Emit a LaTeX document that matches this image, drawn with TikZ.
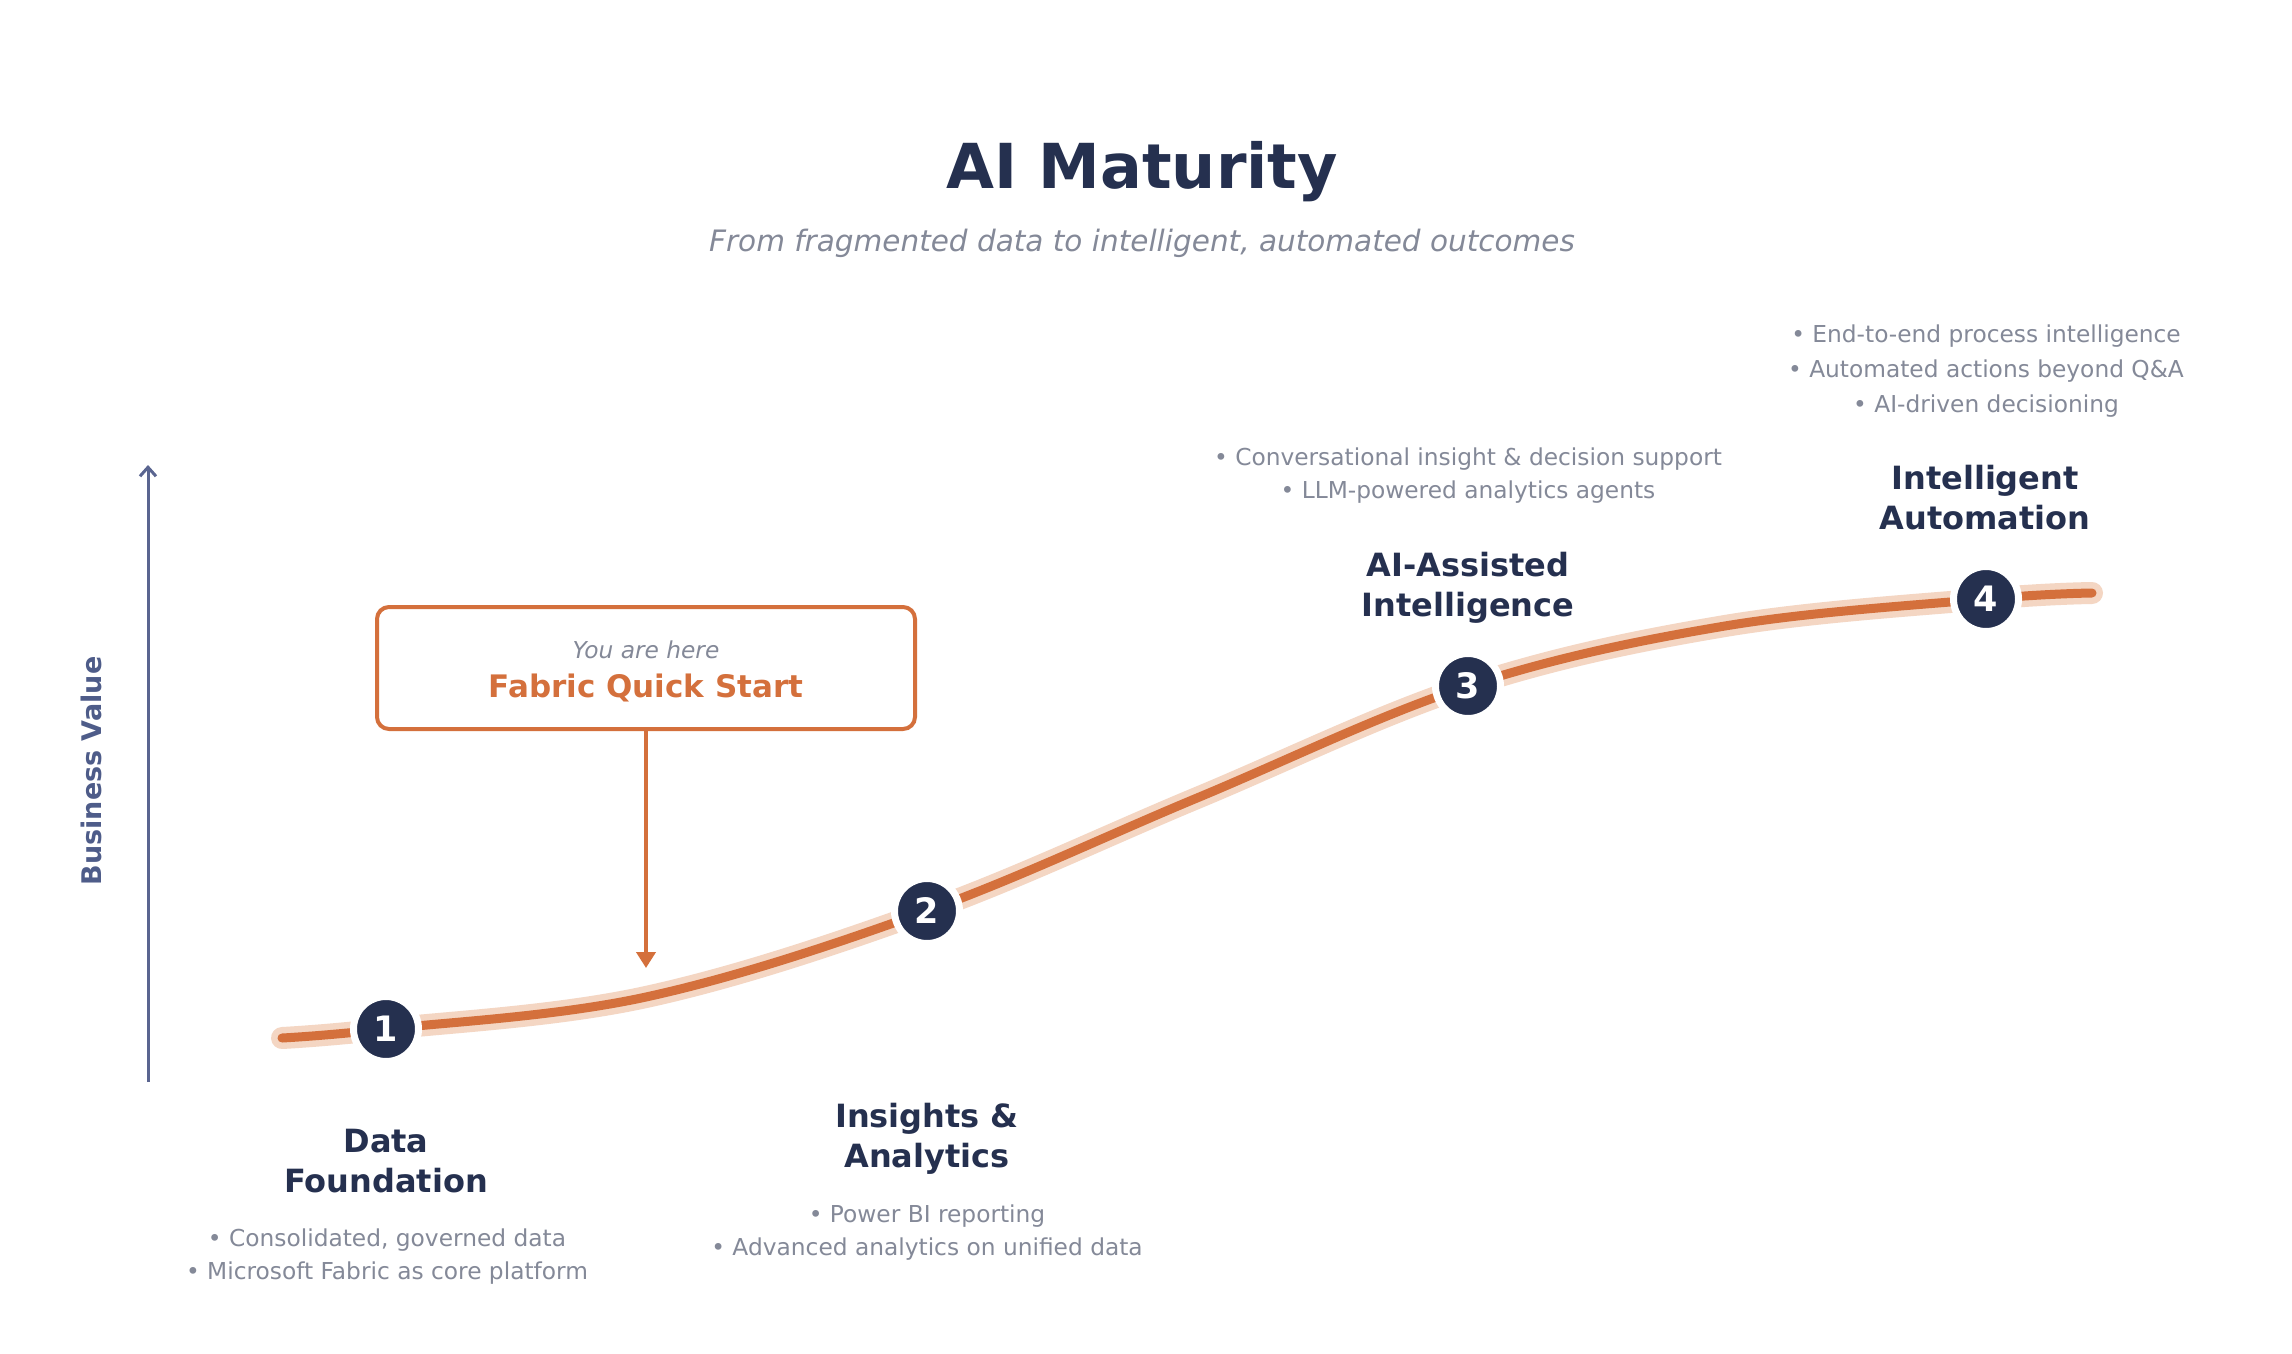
\documentclass[tikz,border=0pt]{standalone}
\usepackage{fontspec}
\setmainfont{DejaVu Sans}
\usetikzlibrary{arrows.meta}
\definecolor{navy}{HTML}{25304F}
\definecolor{orng}{HTML}{D4703C}
\definecolor{halo}{HTML}{F4D6C3}
\definecolor{graytxt}{HTML}{848998}
\definecolor{axcol}{HTML}{5A6590}
\definecolor{axlab}{HTML}{4E5C89}
\begin{document}
\begin{tikzpicture}[x=1pt,y=-1pt,
  head/.style={font=\bfseries\fontsize{32}{40}\selectfont, text=navy, align=center, inner sep=0pt},
  bul/.style={font=\fontsize{23.3}{33}\selectfont, text=graytxt, align=center, inner sep=0pt},
  stepdot/.style={circle, fill=navy, draw=white, line width=7pt, minimum size=65pt, inner sep=0pt, text=white, font=\bfseries\fontsize{35}{35}\selectfont},
  curvebase/.style={line cap=round, line join=round},
]
\fill[white] (0,0) rectangle (2292,1354);
\useasboundingbox (0,0) rectangle (2292,1354);

% title
\node[font=\bfseries\fontsize{62}{62}\selectfont, text=navy] (title) at (1142,172) {AI Maturity};
\node[font=\itshape\fontsize{29.5}{30}\selectfont, text=graytxt] (sub) at (1142,243) {From fragmented data to intelligent, automated outcomes};

% axis
\coordinate (ax0) at (148,1082);
\coordinate (ax1) at (148,465);
\draw[axcol, line width=3pt, -{Straight Barb[length=9pt,width=16pt]}] (ax0) -- (ax1);
\node[rotate=90, font=\bfseries\fontsize{27}{27}\selectfont, text=axlab] (bv) at (91,771) {Business Value};

% curve points
\coordinate (c0) at (282,1038);
\coordinate (p1) at (386,1029);
\coordinate (q1) at (646,997);
\coordinate (p2) at (927,911);
\coordinate (q2) at (1197,798);
\coordinate (p3) at (1468,686);
\coordinate (q3) at (1725,626);
\coordinate (p4) at (1986,599);
\coordinate (c9) at (2092,593);

\draw[curvebase, halo, line width=22pt] plot[smooth, tension=0.6] coordinates {(c0) (p1) (q1) (p2) (q2) (p3) (q3) (p4) (c9)};
\draw[curvebase, orng, line width=9pt] plot[smooth, tension=0.6] coordinates {(c0) (p1) (q1) (p2) (q2) (p3) (q3) (p4) (c9)};

% step dots
\node[stepdot] (n1) at (p1) {1};
\node[stepdot] (n2) at (p2) {2};
\node[stepdot] (n3) at (p3) {3};
\node[stepdot] (n4) at (p4) {4};

% labels
\node[head] (h1) at (386,1161) {Data\\Foundation};
\node[bul] (b1) at (387,1257) {• Consolidated, governed data\\• Microsoft Fabric as core platform};
\node[head] (h2) at (927,1139) {Insights \&\\Analytics};
\node[bul] (b2) at (927,1233) {• Power BI reporting\\• Advanced analytics on unified data};
\node[head] (h3) at (1468,588) {AI-Assisted\\Intelligence};
\node[bul] (b3) at (1468,476) {• Conversational insight \& decision support\\• LLM-powered analytics agents};
\node[head] (h4) at (1985,498) {Intelligent\\Automation};
\node[bul, font=\fontsize{23.3}{35}\selectfont] (b4) at (1986,371) {• End-to-end process intelligence\\• Automated actions beyond Q\&A\\• AI-driven decisioning};

% callout
\node[draw=orng, line width=4pt, rounded corners=12pt, minimum width=538pt, minimum height=122pt, fill=white] (box) at (646,668) {};
\node[font=\itshape\fontsize{23.3}{23}\selectfont, text=graytxt] (yah) at (646,650) {You are here};
\node[font=\bfseries\fontsize{31}{31}\selectfont, text=orng] (fqs) at (646,688) {Fabric Quick Start};
\coordinate (tip) at (646,968);
\draw[orng, line width=4.5pt, -{Triangle[length=16pt,width=19pt]}] (box.south) -- (tip);
\end{tikzpicture}
\end{document}
